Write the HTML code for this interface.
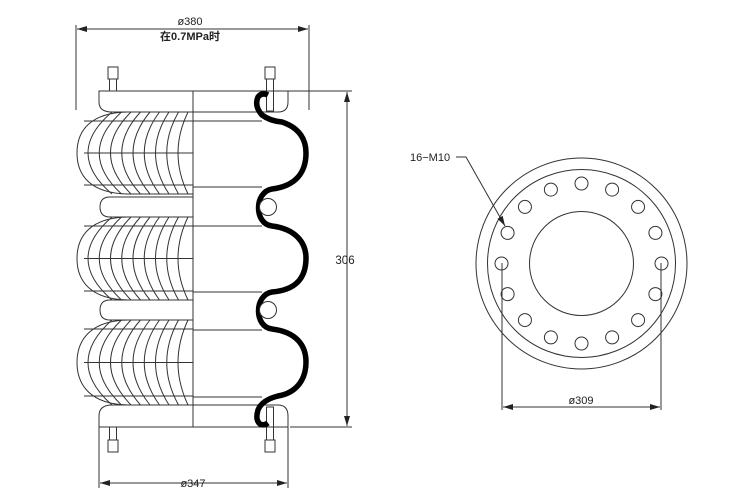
<!DOCTYPE html>
<html><head><meta charset="utf-8"><style>
html,body{margin:0;padding:0;background:#fff;width:753px;height:501px;overflow:hidden}
svg{display:block}
text{font-family:"Liberation Sans","Noto Sans CJK SC",sans-serif;fill:#222}
</style></head><body>
<svg id="s" width="753" height="501" viewBox="0 0 753 501" xmlns="http://www.w3.org/2000/svg">
<defs><marker id="a" viewBox="0 0 10 6" refX="10" refY="3" markerWidth="10" markerHeight="6" orient="auto-start-reverse"><path d="M0,0 L10,3 L0,6 Z" fill="#222"/></marker></defs>
<g fill="none" stroke="#333" stroke-width="1">
<line x1="76" y1="25" x2="76" y2="110"/><line x1="309" y1="25" x2="309" y2="110"/>
<line x1="77" y1="29" x2="308" y2="29" marker-start="url(#a)" marker-end="url(#a)"/>
<line x1="270" y1="91" x2="352" y2="91"/><line x1="290" y1="427" x2="352" y2="427"/>
<line x1="347" y1="92" x2="347" y2="426" marker-start="url(#a)" marker-end="url(#a)"/>
<line x1="99" y1="427" x2="99" y2="488"/><line x1="288" y1="427" x2="288" y2="488"/>
<line x1="100" y1="483" x2="287" y2="483" marker-start="url(#a)" marker-end="url(#a)"/>
<path d="M99,91 L288,91 L288,102 Q288,112 278,112 L112,112 Q99,112 99,102 Z"/>
<path d="M99,427 L288,427 L288,416 Q288,405 278,405 L112,405 Q99,405 99,416 Z"/>
<line x1="193" y1="91" x2="193" y2="427"/>
<path d="M193,197 L110,197 Q100,197 100,207 Q100,217 110,217 L193,217"/>
<path d="M193,300 L110,300 Q100,300 100,310 Q100,320 110,320 L193,320"/>
<line x1="193" y1="121" x2="262" y2="121"/><line x1="193" y1="187" x2="262" y2="187"/>
<line x1="193" y1="226" x2="262" y2="226"/><line x1="193" y1="292" x2="262" y2="292"/>
<line x1="193" y1="330" x2="262" y2="330"/><line x1="193" y1="397" x2="262" y2="397"/>
<g id="bul"></g>
<g id="bolts"></g>
</g>
<path d="M268,95 Q262,92 258,97 Q254,106 262,115 Q270,121 282,122 C300,128 306,140 306,153 C306,172 296,186 272,189 C254,192 254,224 272,226 C296,229 306,243 306,258 C306,278 296,290 272,292 C254,295 254,327 272,329 C296,332 306,345 306,362 C306,380 296,393 278,396 Q262,400 258,410 Q255,420 260,424 Q264,426 268,423" fill="none" stroke="#000" stroke-width="5.5"/>
<g fill="#fff" stroke="#333" stroke-width="1">
<circle cx="268" cy="207" r="8.5"/><circle cx="268" cy="310" r="8.5"/>
</g>
<g fill="none" stroke="#333" stroke-width="1">
<circle cx="581.5" cy="263.5" r="105.5"/><circle cx="581.5" cy="263.5" r="94"/><circle cx="581.5" cy="263.5" r="52"/>
<g id="holes"></g>
<line x1="502" y1="263" x2="502" y2="410"/><line x1="661" y1="263" x2="661" y2="410"/>
<line x1="503" y1="407" x2="660" y2="407" marker-start="url(#a)" marker-end="url(#a)"/>
<polyline points="456,157 466,157 505,226" marker-end="url(#a)"/>
</g>
<text x="190" y="25" font-size="11" text-anchor="middle">ø380</text>
<text x="190" y="40" font-size="11" text-anchor="middle" font-weight="bold">在0.7MPa时</text>
<text x="345" y="264" font-size="11.5" text-anchor="middle">306</text>
<text x="193" y="487" font-size="11" text-anchor="middle">ø347</text>
<text x="581" y="404" font-size="11" text-anchor="middle">ø309</text>
<text x="410" y="161" font-size="11">16−M10</text>
</svg>
<script>
var NS="http://www.w3.org/2000/svg";
function el(p,t,a){var e=document.createElementNS(NS,t);for(var k in a)e.setAttribute(k,a[k]);p.appendChild(e);return e;}
var b=document.getElementById("bul");
[[112,194],[217,300],[320,405]].forEach(function(r){var t=r[0],bo=r[1],m=(t+bo)/2;
el(b,"path",{d:"M193,"+t+" L130,"+t+" C90,"+t+" 77,"+(m-22)+" 77,"+m+" C77,"+(m+22)+" 90,"+bo+" 130,"+bo+" L193,"+bo});
for(var k=0;k<9;k++){var x=112+k*9.5;el(b,"path",{d:"M"+x+","+t+" Q"+(x-48+k*3.5)+","+m+" "+x+","+bo});}
[t+9,m,bo-9].forEach(function(y){el(b,"line",{x1:84,y1:y,x2:193,y2:y});});
});
var bl=document.getElementById("bolts");
[113,270].forEach(function(x){el(bl,"rect",{x:x-5,y:67,width:10,height:12});el(bl,"rect",{x:x-3.5,y:79,width:7,height:12});});
el(bl,"rect",{x:266.5,y:91,width:7,height:20});
[113,270].forEach(function(x){el(bl,"rect",{x:x-5,y:440,width:10,height:12});el(bl,"rect",{x:x-3.5,y:427,width:7,height:13});});
el(bl,"rect",{x:266.5,y:407,width:7,height:20});
var h=document.getElementById("holes");
for(var i=0;i<16;i++){var a=i*Math.PI/8;el(h,"circle",{cx:581.5+80*Math.cos(a),cy:263.5+80*Math.sin(a),r:6.5});}
</script>
</body></html>
